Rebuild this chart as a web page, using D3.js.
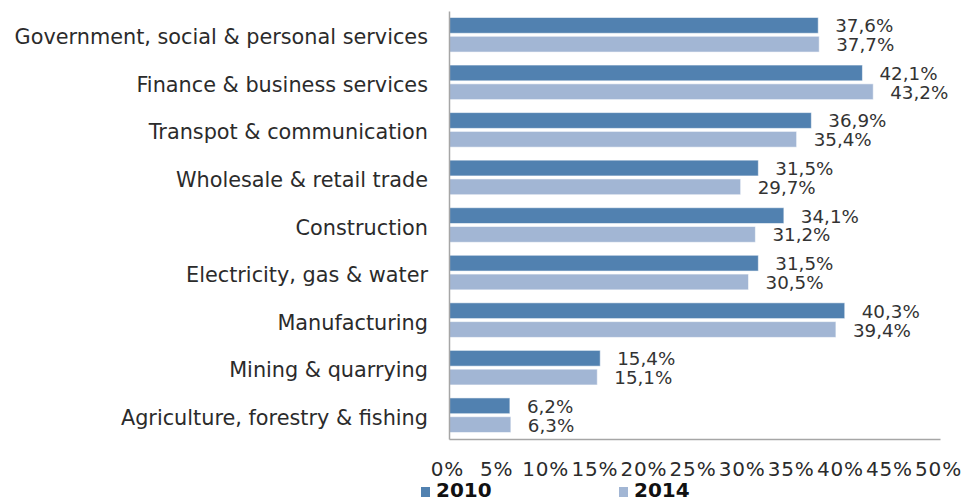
<!DOCTYPE html>
<html>
<head>
<meta charset="utf-8">
<script src="https://cdn.jsdelivr.net/npm/d3@7"></script>
<style>
  html, body { margin: 0; padding: 0; background: #fff; }
  svg { display: block; font-family: "DejaVu Sans", Verdana, sans-serif; }
</style>
</head>
<body>
<svg id="chart" width="964" height="501"></svg>
<script>
// Share of employment by sector, 2010 vs 2014
const categories = [
  "Government, social & personal services",
  "Finance & business services",
  "Transpot & communication",
  "Wholesale & retail trade",
  "Construction",
  "Electricity, gas & water",
  "Manufacturing",
  "Mining & quarrying",
  "Agriculture, forestry & fishing"
];
const seriesNames = ["2010", "2014"];
const values2010 = [37.6, 42.1, 36.9, 31.5, 34.1, 31.5, 40.3, 15.4, 6.2];
const values2014 = [37.7, 43.2, 35.4, 29.7, 31.2, 30.5, 39.4, 15.1, 6.3];
const tickValues = [0, 5, 10, 15, 20, 25, 30, 35, 40, 45, 50];

const colors = { "2010": "#5181b0", "2014": "#a2b6d4" };

const svg = d3.select("#chart");
const plot = { left: 449, right: 940, top: 11, bottom: 439 };

const x = d3.scaleLinear().domain([0, 50]).range([plot.left, plot.right]);
const y = d3.scaleBand().domain(categories).range([plot.top, plot.bottom]);
const ySub = d3.scaleBand().domain(seriesNames)
  .range([0, y.bandwidth()]).paddingInner(0.16).paddingOuter(0.345);

const locale = d3.formatLocale({ decimal: ",", thousands: ".", grouping: [3], currency: ["", ""] });
const fmt = locale.format(".1f");

const rows = categories.map((c, i) => ({
  category: c,
  values: [
    { series: "2010", value: values2010[i] },
    { series: "2014", value: values2014[i] }
  ]
}));

// bars
const groups = svg.append("g").selectAll("g")
  .data(rows).join("g")
  .attr("transform", d => `translate(0,${y(d.category)})`);

groups.selectAll("rect")
  .data(d => d.values).join("rect")
  .attr("x", x(0))
  .attr("y", d => ySub(d.series))
  .attr("width", d => x(d.value) - x(0))
  .attr("height", ySub.bandwidth())
  .attr("fill", d => colors[d.series])
  .attr("stroke", "#ffffff")
  .attr("stroke-opacity", 0.55)
  .attr("stroke-width", 1);

// value labels
groups.selectAll("text")
  .data(d => d.values).join("text")
  .attr("x", d => x(d.value) + 17)
  .attr("y", d => ySub(d.series) + ySub.bandwidth() / 2 + 7)
  .attr("font-size", 18.3)
  .attr("fill", "#333")
  .text(d => fmt(d.value) + "%");

// category axis
const yAxis = svg.append("g")
  .attr("transform", `translate(${plot.left},0)`)
  .call(d3.axisLeft(y).tickSize(0).tickSizeOuter(0).tickPadding(21))
  .attr("font-family", null)
  .attr("font-size", null);
yAxis.select(".domain").attr("stroke", "#a6a6a6").attr("stroke-width", 1.5);
yAxis.selectAll("text")
  .attr("font-size", 20.8)
  .attr("fill", "#2b2b2b")
  .attr("dy", null)
  .attr("y", 9.5);

// value axis
const xAxis = svg.append("g")
  .attr("transform", `translate(0,${plot.bottom})`)
  .call(d3.axisBottom(x).tickValues(tickValues).tickSize(0).tickSizeOuter(0)
    .tickFormat(d => d + "%"))
  .attr("font-family", null)
  .attr("font-size", null);
xAxis.select(".domain").attr("stroke", "#a6a6a6").attr("stroke-width", 1.5);
xAxis.selectAll("text")
  .attr("font-size", 20)
  .attr("letter-spacing", 0.8)
  .attr("fill", "#2b2b2b")
  .attr("dy", null)
  .attr("x", -2)
  .attr("y", 37);

// legend
const legendX = { "2010": 421, "2014": 619 };
const legend = svg.append("g").selectAll("g")
  .data(seriesNames).join("g")
  .attr("transform", d => `translate(${legendX[d]},0)`);
legend.append("rect")
  .attr("x", 0).attr("y", 487)
  .attr("width", 9).attr("height", 10)
  .attr("fill", d => colors[d]);
legend.append("text")
  .attr("x", 15).attr("y", 497)
  .attr("font-size", 20)
  .attr("font-weight", "bold")
  .attr("fill", "#111")
  .text(d => d);
</script>
</body>
</html>
